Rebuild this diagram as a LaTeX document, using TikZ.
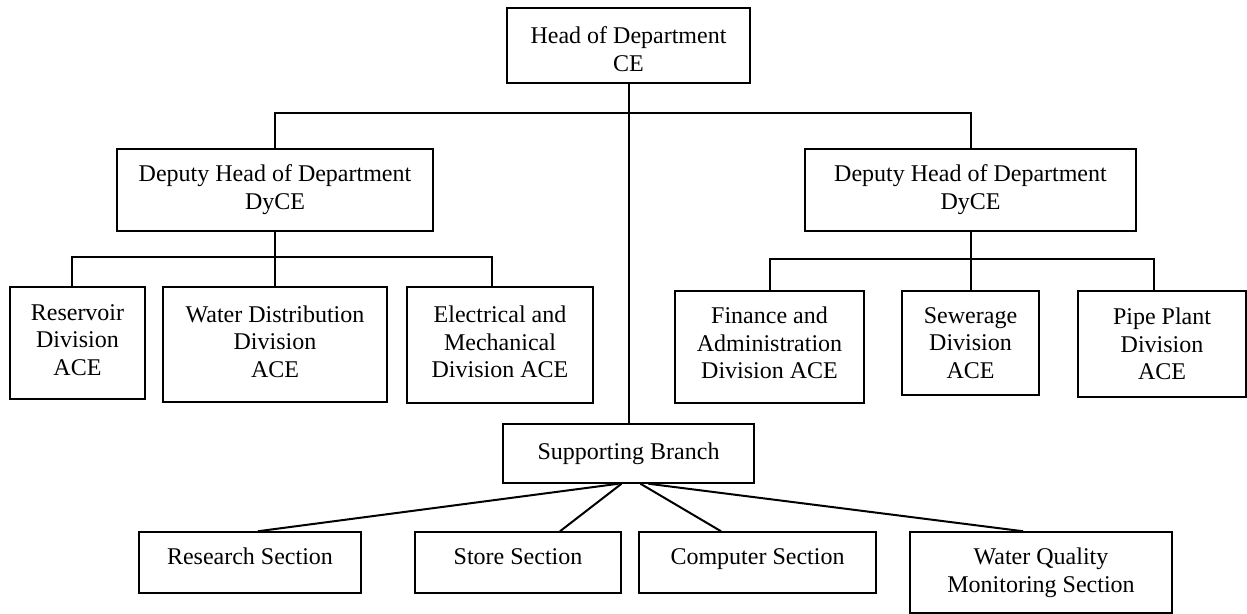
\documentclass[tikz,border=0pt]{standalone}
\usepackage{fontspec}
\setmainfont{Liberation Serif}
\begin{document}
\begin{tikzpicture}[x=0.5pt,y=-0.5pt,
  box/.style={draw, line width=0.75pt, inner sep=0pt, align=center,
    font=\fontsize{12pt}{14pt}\selectfont},
  cbox/.style={box, font=\fontsize{12pt}{13.75pt}\selectfont},
  sbox/.style={box, text height=9pt, text depth=7pt},
  link/.style={line width=1pt}]
\useasboundingbox (0,0) rectangle (1247,614);
% top
\node[box, minimum width=121.5pt, minimum height=37.5pt] (head) at (628.5,45.5) {\rule{0pt}{12pt}Head of Department\\CE};
\node[box, minimum width=158pt, minimum height=41pt] (dL) at (275,190) {Deputy Head of Department\\DyCE};
\node[box, minimum width=165.5pt, minimum height=41pt] (dR) at (970.5,190) {Deputy Head of Department\\DyCE};
% left divisions
\node[cbox, minimum width=67.5pt, minimum height=56pt] (res) at (77.5,343) {Reservoir\\Division\\ACE\\[-10.75pt]};
\node[cbox, minimum width=112pt, minimum height=57.5pt] (wat) at (275,344.5) {Water Distribution\\Division\\ACE\\[-10.75pt]};
\node[cbox, minimum width=93pt, minimum height=58pt] (ele) at (500,345) {Electrical and\\Mechanical\\Division ACE\\[-10.75pt]};
% right divisions
\node[cbox, minimum width=94.5pt, minimum height=56pt] (fin) at (769.5,347) {Finance and\\Administration\\Division ACE\\[-9.75pt]};
\node[cbox, minimum width=68.5pt, minimum height=52pt] (sew) at (970.5,343) {Sewerage\\Division\\ACE};
\node[cbox, minimum width=84pt, minimum height=53pt] (pip) at (1162,344) {Pipe Plant\\Division\\ACE};
% supporting
\node[box, minimum width=125.5pt, minimum height=29.5pt] (sup) at (628.5,453.5) {Supporting Branch};
\node[sbox, minimum width=111pt, minimum height=30.5pt] (rsc) at (250,562.5) {Research Section};
\node[sbox, minimum width=103pt, minimum height=30.5pt] (sto) at (518,562.5) {Store Section};
\node[sbox, minimum width=118.5pt, minimum height=30.5pt] (cmp) at (757.5,562.5) {Computer Section};
\node[box, minimum width=131pt, minimum height=40.5pt] (wqm) at (1041,572.5) {Water Quality\\Monitoring Section};
% connectors
\coordinate (hb) at (628.5,113);
\draw[link] (head.south) -- (sup.north);
\draw[link] (dL.north) |- (hb) -| (dR.north);
\coordinate (lb1) at (72,257);
\coordinate (lb2) at (275,257);
\coordinate (lb3) at (492,257);
\draw[link] (dL.south) -- (lb2);
\draw[link] (lb1 |- res.north) -- (lb1) -- (lb3) -- (lb3 |- ele.north);
\draw[link] (lb2) -- (wat.north);
\coordinate (rb1) at (769.5,259);
\coordinate (rb2) at (970.5,259);
\coordinate (rb3) at (1154,259);
\draw[link] (dR.south) -- (rb2);
\draw[link] (fin.north) -- (rb1) -- (rb3) -- (rb3 |- pip.north);
\draw[link] (rb2) -- (sew.north);
\draw[link] ([xshift=-5pt]sup.south) -- ([xshift=4pt]rsc.north);
\draw[link] ([xshift=-3.5pt]sup.south) -- ([xshift=21pt]sto.north);
\draw[link] ([xshift=6pt]sup.south) -- ([xshift=-18.25pt]cmp.north);
\draw[link] ([xshift=10pt]sup.south) -- ([xshift=-9pt]wqm.north);
\end{tikzpicture}
\end{document}
